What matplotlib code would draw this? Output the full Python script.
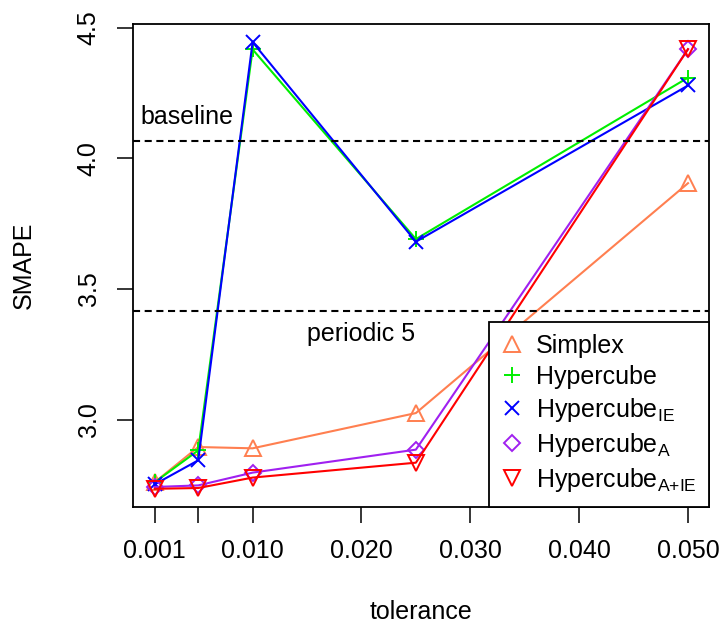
import numpy as np
import matplotlib
matplotlib.use("Agg")
import matplotlib.pyplot as plt

plt.rcParams["font.family"] = ["Liberation Sans", "DejaVu Sans"]
plt.rcParams["mathtext.fontset"] = "custom"
plt.rcParams["mathtext.rm"] = "Liberation Sans"
plt.rcParams["mathtext.it"] = "Liberation Sans"
plt.rcParams["mathtext.default"] = "rm"

# data
tolerance = [0.001, 0.005, 0.010, 0.025, 0.050]
simplex = [2.76, 2.895, 2.89, 3.025, 3.905]
hypercube = [2.76, 2.882, 4.417, 3.691, 4.309]
hypercube_ie = [2.752, 2.844, 4.445, 3.681, 4.279]
hypercube_a = [2.742, 2.748, 2.797, 2.885, 4.418]
hypercube_aie = [2.735, 2.738, 2.778, 2.835, 4.418]
baseline = 4.068
periodic5 = 3.416

series = [
    ("Simplex", simplex, "#FF7F50", "^", 11),
    ("Hypercube", hypercube, "#00EE00", "+", 12),
    (r"Hypercube$_{\mathrm{IE}}$", hypercube_ie, "#0000FF", "x", 10),
    (r"Hypercube$_{\mathrm{A}}$", hypercube_a, "#A020F0", "D", 8),
    (r"Hypercube$_{\mathrm{A{+}IE}}$", hypercube_aie, "#FF0000", "v", 11),
]

fig = plt.figure(figsize=(7.25, 6.32), dpi=100)
ax = fig.add_axes([0.1839, 0.1983, 0.7945, 0.7633])

for label, vals, col, mk, ms in series:
    ax.plot(tolerance, vals, color=col, lw=1.5, marker=mk, ms=ms,
            markerfacecolor="none", markeredgecolor=col, mew=1.4,
            label=label)

ax.axhline(baseline, color="black", lw=1.5, dashes=(3.4, 2.2))
ax.axhline(periodic5, color="black", lw=1.5, dashes=(3.4, 2.2))
ax.text(0.004, 4.132, "baseline", fontsize=18, ha="center", va="baseline")
ax.text(0.020, 3.302, "periodic 5", fontsize=18, ha="center", va="baseline")

# R style 4% padding
xmin, xmax = min(tolerance), max(tolerance)
allv = np.concatenate([simplex, hypercube, hypercube_ie, hypercube_a, hypercube_aie])
ymin, ymax = allv.min(), allv.max()
dx = (xmax - xmin) * 0.04
dy = (ymax - ymin) * 0.04
ax.set_xlim(xmin - dx, xmax + dx)
ax.set_ylim(ymin - dy, ymax + dy)

ax.set_xticks([0.001, 0.010, 0.020, 0.030, 0.040, 0.050, 0.005])
ax.set_xticklabels(["0.001", "0.010", "0.020", "0.030", "0.040", "0.050", ""])
ax.set_yticks([3.0, 3.5, 4.0, 4.5])
ax.set_yticklabels(["3.0", "3.5", "4.0", "4.5"], rotation=90, va="center")

ax.tick_params(direction="out", length=11.5, width=1.1, labelsize=18, color="black")
ax.tick_params(axis="x", pad=12)
ax.tick_params(axis="y", pad=12)
for s in ax.spines.values():
    s.set_linewidth(1.3)

ax.set_xlabel("tolerance", fontsize=18, va="center")
ax.xaxis.set_label_coords(0.5, -0.218)
ax.set_ylabel("SMAPE", fontsize=18, va="center")
ax.yaxis.set_label_coords(-0.19, 0.5)

leg = ax.legend(loc="lower right", borderaxespad=0, fontsize=18, frameon=True,
                fancybox=False, edgecolor="black", framealpha=1,
                handlelength=0.8, handletextpad=0.58, labelspacing=0.28,
                borderpad=0.5, markerscale=1.0)
leg.get_frame().set_linewidth(1.3)
for h in leg.legend_handles:
    h.set_linestyle("none")

fig.savefig("out.png", dpi=100)
